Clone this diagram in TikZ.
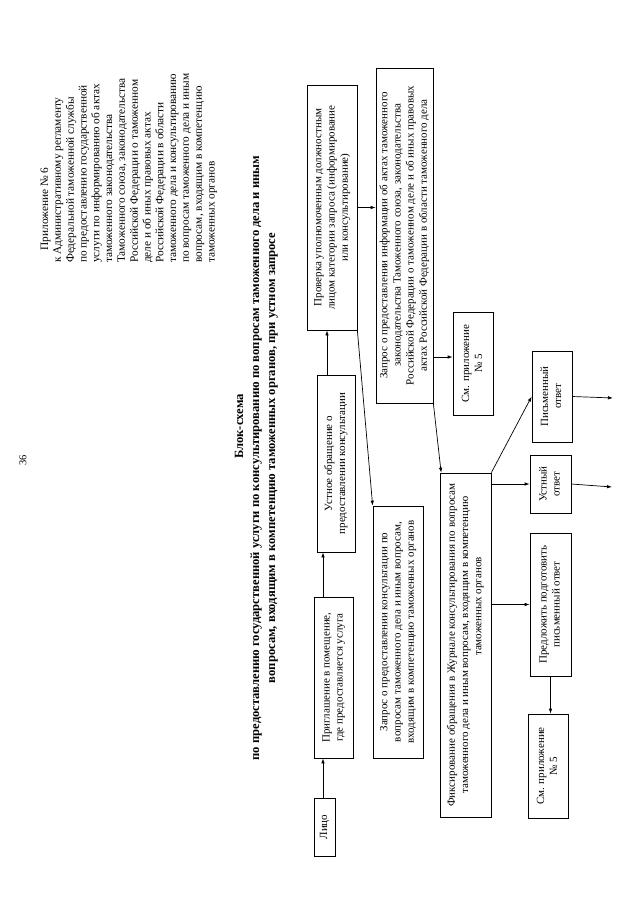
\documentclass[tikz,border=0pt]{standalone}
\usepackage{fontspec}
\setmainfont{Liberation Serif}
\usetikzlibrary{arrows.meta,calc}
\newcommand\vtext[1]{\rotatebox{90}{\begin{tabular}{@{}c@{}}#1\end{tabular}}}
\newcommand\vtextl[1]{\rotatebox{90}{\begin{tabular}{@{}l@{}}#1\end{tabular}}}
\begin{document}
\begin{tikzpicture}[x=1pt,y=-1pt,
  box/.style={draw, line width=0.7pt, inner sep=0pt, font=\fontsize{11}{13.2}\selectfont},
  arr/.style={-{Latex[length=5pt,width=3.5pt]}, line width=0.7pt},
  plain/.style={inner sep=0pt}]
\fill[white] (0,0) rectangle (640,900);
\useasboundingbox (0,0) rectangle (640,900);

% page number
\node[plain, font=\fontsize{10.5}{12}\selectfont] (pagenum) at (23,460) {\rotatebox{90}{36}};

% header
\node[plain, anchor=south west, font=\fontsize{11.3}{12.8}\selectfont] (header) at (39,263) {\vtextl{%
\hspace*{1.1em}Приложение № 6\\
к Административному регламенту\\
Федеральной таможенной службы\\
по предоставлению государственной\\
услуги по информированию об актах\\
таможенного законодательства\\
Таможенного союза, законодательства\\
Российской Федерации о таможенном\\
деле и об иных правовых актах\\
Российской Федерации в области\\
таможенного дела и консультированию\\
по вопросам таможенного дела и иным\\
вопросам, входящим в компетенцию\\
таможенных органов}};

% title
\node[plain, font=\bfseries\fontsize{12.6}{16}\selectfont] (title) at (256,458) {\vtext{%
\hspace*{5em}Блок-схема\\
по предоставлению государственной услуги по консультированию по вопросам таможенного дела и иным\\
вопросам, входящим в компетенцию таможенных органов, при устном запросе}};

% boxes
\node[box, minimum width=21pt, minimum height=58pt] (litso) at (324.5,827) {\vtext{Лицо}};
\node[box, minimum width=39pt, minimum height=161pt] (prigl) at (333.5,677.5) {\vtext{Приглашение в помещение,\\ где предоставляется услуга}};
\node[box, minimum width=38pt, minimum height=177pt] (ustnoe) at (336,463.5) {\vtext{Устное обращение о\\ предоставлении консультации}};
\node[box, minimum width=50pt, minimum height=245pt] (prov) at (332,207.5) {\vtext{Проверка уполномоченным должностным\\ лицом категории запроса (информирование\\ или консультирование)}};
\node[box, minimum width=50pt, minimum height=252pt] (zk) at (398,632) {\vtext{Запрос о предоставлении консультации по\\ вопросам таможенного дела и иным вопросам,\\ входящим в компетенцию таможенных органов}};
\node[box, minimum width=57pt, minimum height=335pt] (zi) at (404.5,235.5) {\vtext{Запрос о предоставлении информации об актах таможенного\\ законодательства Таможенного союза, законодательства\\ Российской Федерации о таможенном деле и об иных правовых\\ актах Российской Федерации в области таможенного дела}};
\node[box, minimum width=40pt, minimum height=103pt] (smA) at (473,363.5) {\vtext{См. приложение\\ № 5}};
\node[box, minimum width=51pt, minimum height=344pt] (fix) at (465.5,645) {\vtext{Фиксирование обращения в Журнале консультирования по вопросам\\ таможенного дела и иным вопросам, входящим в компетенцию\\ \hspace*{7em}таможенных органов}};
\node[box, minimum width=40pt, minimum height=91pt] (pism) at (552,396.5) {\vtext{Письменный\\ ответ}};
\node[box, minimum width=41pt, minimum height=58pt] (ustn) at (550.5,484) {\vtext{Устный\\ ответ}};
\node[box, minimum width=41pt, minimum height=143pt] (predl) at (550.5,604.5) {\vtext{Предложить подготовить\\ письменный ответ}};
\node[box, minimum width=40pt, minimum height=104pt] (smB) at (548,766) {\vtext{См. приложение\\ № 5}};

\coordinate (ustnEnd) at (612,487);
\coordinate (pismEnd) at (613,398);

% connectors
\draw[arr] ([xshift=-1.5pt]litso.north) -- ([xshift=-1.5pt]litso.north |- prigl.south);
\draw[arr] ([xshift=-1.5pt]litso.north |- prigl.north) -- ([xshift=-1.5pt]litso.north |- ustnoe.south);
\draw[arr] ([xshift=-9pt]ustnoe.north) -- ([xshift=-9pt]ustnoe.north |- prov.south);
\draw[arr] (prov.east) -- (prov.east -| zi.west);
\draw[arr] (prov.south east) -- (zk.north west);
\draw[arr] (zi.south east) -- ([xshift=1.5pt]fix.north west);
\draw[arr] ([yshift=6.5pt]smA.west -| zi.east) -- ([yshift=6.5pt]smA.west);
\draw[arr] (fix.east |- ustn.west) -- (ustn.west);
\draw[arr] (fix.east |- predl.west) -- (predl.west);
\draw[arr] (fix.north east) -- (pism.west);
\draw[arr] (predl.south) -- (predl.south |- smB.north);
\draw[arr] (ustn.east) -- (ustnEnd);
\draw[arr] (pism.east) -- (pismEnd);
\end{tikzpicture}
\end{document}
